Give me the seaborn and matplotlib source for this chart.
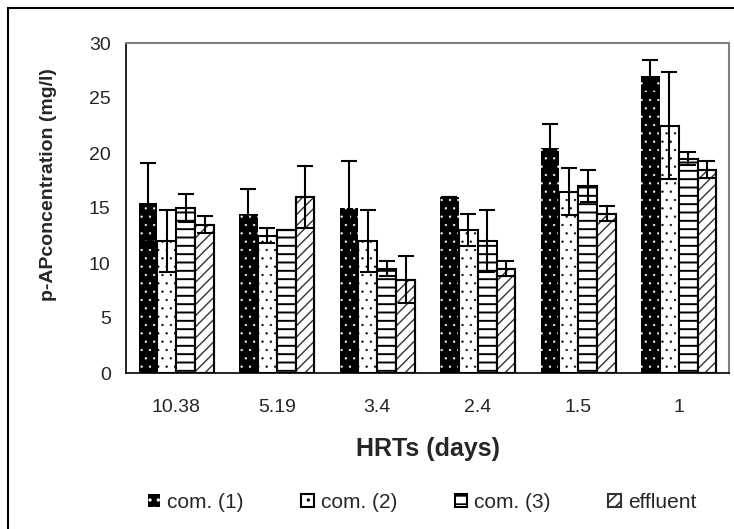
"""
p-AP concentration per HRT, grouped bars with error bars (Excel-style look).
"""

import pandas as pd
import matplotlib.pyplot as plt
import seaborn as sns
from matplotlib.patches import Rectangle

# data
hrts = ['10.38', '5.19', '3.4', '2.4', '1.5', '1']
series = ['com. (1)', 'com. (2)', 'com. (3)', 'effluent']

com1 = [15.5, 14.5, 15.0, 16.0, 20.5, 27.0]
com2 = [12.0, 12.5, 12.0, 13.0, 16.5, 22.5]
com3 = [15.0, 13.0, 9.5, 12.0, 17.0, 19.5]
effluent = [13.5, 16.0, 8.5, 9.5, 14.5, 18.5]

com1_err = [3.6, 2.2, 4.3, 0.0, 2.1, 1.5]
com2_err = [2.8, 0.7, 2.8, 1.45, 2.1, 4.9]
com3_err = [1.3, 0.0, 0.7, 2.8, 1.45, 0.6]
effluent_err = [0.75, 2.8, 2.1, 0.7, 0.7, 0.75]

values = [com1, com2, com3, effluent]
errors = [com1_err, com2_err, com3_err, effluent_err]

rows = []
for name, vals in zip(series, values):
    for h, v in zip(hrts, vals):
        rows.append({'HRT': h, 'Series': name, 'Value': v})
df = pd.DataFrame(rows)

sns.set_style('white')
plt.rcParams['font.family'] = ['Liberation Sans', 'DejaVu Sans']
plt.rcParams['hatch.linewidth'] = 1.2

fig = plt.figure(figsize=(7.34, 5.29), dpi=100)
ax = fig.add_axes([126 / 734, 1 - 373 / 529, 603 / 734, 330 / 529])

sns.barplot(data=df, x='HRT', y='Value', hue='Series', order=hrts,
            hue_order=series, palette=['black', 'white', 'white', 'white'],
            width=0.75, errorbar=None, legend=False, ax=ax)

# bar styles: dots on black, sparse dots, horizontal lines, diagonal lines
styles = [
    dict(face='black', edge='white', hatch='..', lw=0.0, hlw=0.4),
    dict(face='white', edge='black', hatch='..', lw=1.5, hlw=0.4),
    dict(face='white', edge='black', hatch='--', lw=1.5, hlw=1.4),
    dict(face='white', edge='#333333', hatch='///', lw=1.5, hlw=1.0),
]
for cont, st in zip(ax.containers, styles):
    for bar in cont:
        bar.set_facecolor(st['face'])
        bar.set_edgecolor(st['edge'])
        bar.set_hatch(st['hatch'])
        bar.set_linewidth(st['lw'])
        if hasattr(bar, 'set_hatch_linewidth'):
            bar.set_hatch_linewidth(st['hlw'])

# black outline on the grey-hatched bars
for bar in ax.containers[3]:
    ax.add_patch(Rectangle(bar.get_xy(), bar.get_width(), bar.get_height(),
                           fill=False, edgecolor='black', linewidth=1.5,
                           zorder=bar.get_zorder() + 0.1))

for cont, err in zip(ax.containers, errors):
    xs = [b.get_x() + b.get_width() / 2 for b in cont]
    ys = [b.get_height() for b in cont]
    ax.errorbar(xs, ys, yerr=err, fmt='none', ecolor='black', elinewidth=1.5,
                capsize=6, capthick=1.5, zorder=5)

ax.set_xlim(-0.5, 5.5)
ax.set_ylim(0, 30)
ax.set_yticks(range(0, 31, 5))
ax.set_xticks(range(len(hrts)))
ax.set_xticklabels(hrts)
ax.set_xticks([i - 0.5 for i in range(len(hrts) + 1)], minor=True)
ax.tick_params(axis='x', which='major', length=0, pad=19, labelsize=14)
ax.tick_params(axis='x', which='minor', length=5, width=1, color='black', direction='out')
ax.tick_params(axis='y', length=5, width=1, color='black', direction='out', pad=6, labelsize=14)

for side in ['left', 'bottom']:
    ax.spines[side].set_color('black')
    ax.spines[side].set_linewidth(1.2)
for side in ['top', 'right']:
    ax.spines[side].set_visible(True)
    ax.spines[side].set_color('#808080')
    ax.spines[side].set_linewidth(1.5)

ax.set_xlabel('HRTs (days)', fontsize=18, fontweight='bold')
ax.xaxis.set_label_coords(0.5, -0.195)
ax.set_ylabel('p-APconcentration (mg/l)', fontsize=14, fontweight='bold')
ax.yaxis.set_label_coords(-0.115, 0.57)

fig.legend(handles=list(ax.containers), labels=series, loc='center',
           bbox_to_anchor=(0.575, 0.05), ncol=4, frameon=False, fontsize=15,
           handlelength=0.6, handleheight=0.6, handletextpad=0.35, columnspacing=2.75)

# outer chart border (cut off at right and bottom)
fig.add_artist(Rectangle((8 / 734, -0.05), 1.2, 1.05 - 8 / 529, fill=False,
                         edgecolor='black', linewidth=1.5, transform=fig.transFigure))

fig.savefig('out.png', dpi=100)
